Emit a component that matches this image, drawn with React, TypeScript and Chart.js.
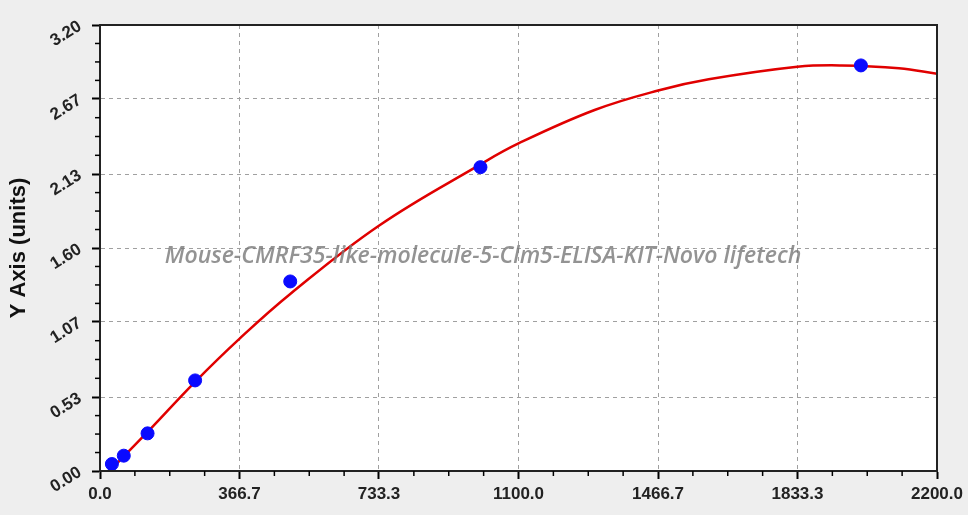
import { useEffect, useRef } from "react";
import { Chart, registerables } from "chart.js";

Chart.register(...registerables);

// standards (concentration vs OD)
const stdConc = [31.25, 62.5, 125, 250, 500, 1000, 2000];
const stdOd = [0.05, 0.11, 0.27, 0.65, 1.36, 2.18, 2.91];

// fitted curve
const fitConc = [18, 125, 250, 367, 500, 733, 1000, 1100, 1300, 1467, 1600, 1833, 1950, 2100, 2200];
const fitOd = [-0.02, 0.28, 0.64, 0.95, 1.27, 1.76, 2.2, 2.35, 2.59, 2.73, 2.81, 2.9, 2.91, 2.89, 2.85];

const xTickLabels = ["0.0", "366.7", "733.3", "1100.0", "1466.7", "1833.3", "2200.0"];
const yTickLabels = ["0.00", "0.53", "1.07", "1.60", "2.13", "2.67", "3.20"];

const watermark = "Mouse-CMRF35-like-molecule-5-Clm5-ELISA-KIT-Novo lifetech";

const decorPlugin = {
  id: "decor",
  beforeDraw(chart: any) {
    const { ctx, chartArea: a } = chart;
    ctx.save();
    ctx.fillStyle = "#ffffff";
    ctx.fillRect(a.left, a.top, a.right - a.left, a.bottom - a.top);
    ctx.restore();
  },
  afterDatasetsDraw(chart: any) {
    const { ctx } = chart;
    // watermark
    ctx.save();
    ctx.font = "italic 600 20px 'Open Sans'";
    const w = ctx.measureText(watermark).width;
    const size = (20 * 637) / w;
    ctx.font = `italic 600 ${size}px 'Open Sans'`;
    ctx.fillStyle = "rgba(120,120,120,0.8)";
    ctx.textAlign = "center";
    ctx.textBaseline = "middle";
    ctx.fillText(watermark, 483, 256);
    ctx.restore();
  },
  afterDraw(chart: any) {
    const { ctx, chartArea: a, scales } = chart;
    ctx.save();
    ctx.strokeStyle = "#222";
    ctx.lineWidth = 2;
    ctx.strokeRect(a.left, a.top, a.right - a.left, a.bottom - a.top);
    // minor ticks
    ctx.strokeStyle = "#000";
    ctx.lineWidth = 1.5;
    const xs = xTickLabels.map(parseFloat);
    for (let i = 0; i < xs.length - 1; i++) {
      for (let k = 1; k < 4; k++) {
        const px = scales.x.getPixelForValue(xs[i] + ((xs[i + 1] - xs[i]) * k) / 4);
        ctx.beginPath();
        ctx.moveTo(px, a.bottom);
        ctx.lineTo(px, a.bottom + 5);
        ctx.stroke();
      }
    }
    const ys = yTickLabels.map(parseFloat);
    for (let i = 0; i < ys.length - 1; i++) {
      for (let k = 1; k < 4; k++) {
        const py = scales.y.getPixelForValue(ys[i] + ((ys[i + 1] - ys[i]) * k) / 4);
        ctx.beginPath();
        ctx.moveTo(a.left, py);
        ctx.lineTo(a.left - 5, py);
        ctx.stroke();
      }
    }
    ctx.restore();
  },
};

function CurveChart() {
  const canvasRef = useRef<HTMLCanvasElement | null>(null);
  useEffect(() => {
    if (!canvasRef.current) return;
    const gridStyle = {
      color: "#a0a0a0",
      lineWidth: 1,
      drawTicks: true,
      tickLength: 8,
      tickColor: "#000",
      tickWidth: 2,
      tickBorderDash: [],
    };
    const borderStyle = { color: "#000", width: 2, dash: [4, 4] };
    const chart = new Chart(canvasRef.current, {
      type: "scatter",
      data: {
        datasets: [
          {
            data: stdConc.map((x, i) => ({ x, y: stdOd[i] })),
            backgroundColor: "#0a0aff",
            borderColor: "#0a0aff",
            pointRadius: 6.5,
            showLine: false,
            order: 0,
          },
          {
            data: fitConc.map((x, i) => ({ x, y: fitOd[i] })),
            borderColor: "#e00000",
            borderWidth: 2.5,
            pointRadius: 0,
            showLine: true,
            tension: 0.4,
            order: 1,
          },
        ],
      },
      options: {
        responsive: false,
        animation: false,
        layout: { padding: { top: 25, right: 30 } },
        plugins: { legend: { display: false }, tooltip: { enabled: false } },
        scales: {
          x: {
            type: "linear",
            min: 0,
            max: 2200,
            afterBuildTicks: (s: any) => {
              s.ticks = xTickLabels.map((l) => ({ value: parseFloat(l) }));
            },
            afterFit: (s: any) => {
              s.height = 44;
            },
            ticks: {
              callback: (_v: any, i: number) => xTickLabels[i],
              color: "#222",
              font: { family: "'Liberation Sans', Arial", size: 17, weight: "bold" },
              padding: 5,
              maxRotation: 0,
            },
            grid: gridStyle,
            border: borderStyle,
          },
          y: {
            type: "linear",
            min: 0,
            max: 3.2,
            afterBuildTicks: (s: any) => {
              s.ticks = yTickLabels.map((l) => ({ value: parseFloat(l) }));
            },
            afterFit: (s: any) => {
              s.width = 100;
            },
            ticks: {
              callback: (_v: any, i: number) => yTickLabels[i],
              color: "#222",
              font: { family: "'Liberation Sans', Arial", size: 17, weight: "bold" },
              padding: 12,
              minRotation: 32,
              maxRotation: 32,
            },
            title: {
              display: true,
              text: "Y Axis (units)",
              color: "#111",
              font: { family: "'Liberation Sans', Arial", size: 22, weight: "bold" },
              padding: { top: 6, bottom: 0 },
            },
            grid: gridStyle,
            border: borderStyle,
          },
        },
      },
      plugins: [decorPlugin],
    } as any);
    return () => chart.destroy();
  }, []);
  return <canvas ref={canvasRef} width={968} height={515} />;
}

export default function App() {
  return (
    <div
      style={{
        position: "fixed",
        left: 0,
        top: 0,
        width: 968,
        height: 515,
        background: "#eeeeee",
      }}
    >
      <CurveChart />
    </div>
  );
}
